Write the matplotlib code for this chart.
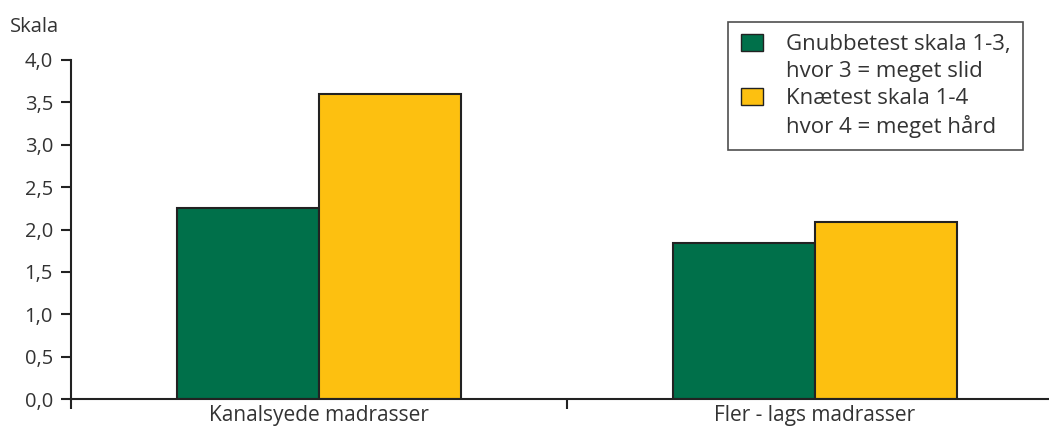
import matplotlib.pyplot as plt
import numpy as np
from matplotlib.patches import Patch

plt.rcParams['font.family'] = ['Open Sans', 'DejaVu Sans']

categories = ["Kanalsyede madrasser", "Fler - lags madrasser"]
gnubbe = [2.25, 1.84]
knae = [3.6, 2.09]
legend_lines = ["Gnubbetest skala 1-3,", "hvor 3 = meget slid",
                "Knætest skala 1-4", "hvor 4 = meget hård"]
yticks = [0.0, 0.5, 1.0, 1.5, 2.0, 2.5, 3.0, 3.5, 4.0]

green = "#00704a"
yellow = "#fdc010"
edge = "#222222"
txt = "#333333"
fs = 14.5

fig = plt.figure(figsize=(10.49, 4.30), dpi=100)
# axis runs off the right edge of the picture, as in the original
cat_px = 496
ax = fig.add_axes([71 / 1049, 31 / 430, 978 / 1049, 339 / 430])

x = np.arange(len(categories))
w = 0.286
ax.bar(x - w / 2, gnubbe, w, color=green, edgecolor=edge, linewidth=1.5)
ax.bar(x + w / 2, knae, w, color=yellow, edgecolor=edge, linewidth=1.5)

ax.set_xlim(-0.5, -0.5 + 978 / cat_px)
ax.set_ylim(0, 4.0)
ax.set_yticks(yticks)
ax.set_yticklabels([f"{v:.1f}".replace(".", ",") for v in yticks], fontsize=fs, color=txt)
ax.set_xticks([-0.5, 0.5])
ax.set_xticklabels([])
ax.set_xticks(x, minor=True)
ax.set_xticklabels(categories, minor=True, fontsize=15, color=txt)
ax.tick_params(axis="x", which="minor", length=0, pad=4)
ax.tick_params(axis="x", which="major", length=7, width=1.5, color=edge, direction="out")
ax.tick_params(axis="y", length=7, width=1.5, color=edge, direction="out", pad=6)

for s in ["top", "right"]:
    ax.spines[s].set_visible(False)
for s in ["left", "bottom"]:
    ax.spines[s].set_linewidth(1.5)
    ax.spines[s].set_color(edge)

fig.text(10 / 1049, 1 - 27 / 430, "Skala", fontsize=fs, color=txt, va="center", ha="left")

# one legend row per text line, so the squares sit on the first line
blank = Patch(facecolor="none", edgecolor="none")
handles = [Patch(facecolor=green, edgecolor=edge), blank,
           Patch(facecolor=yellow, edgecolor=edge), blank]
leg = fig.legend(handles, legend_lines, loc="upper right",
                 bbox_to_anchor=(1023 / 1049, 1 - 22 / 430),
                 prop={"size": 16}, frameon=True, fancybox=False,
                 handlelength=1.0, handleheight=0.75, handletextpad=1.05,
                 borderpad=0.55, labelspacing=0.27, borderaxespad=0)
leg.get_frame().set_edgecolor(edge)
leg.get_frame().set_linewidth(1.2)
for t in leg.get_texts():
    t.set_color(txt)

fig.savefig("out.png", dpi=100)
